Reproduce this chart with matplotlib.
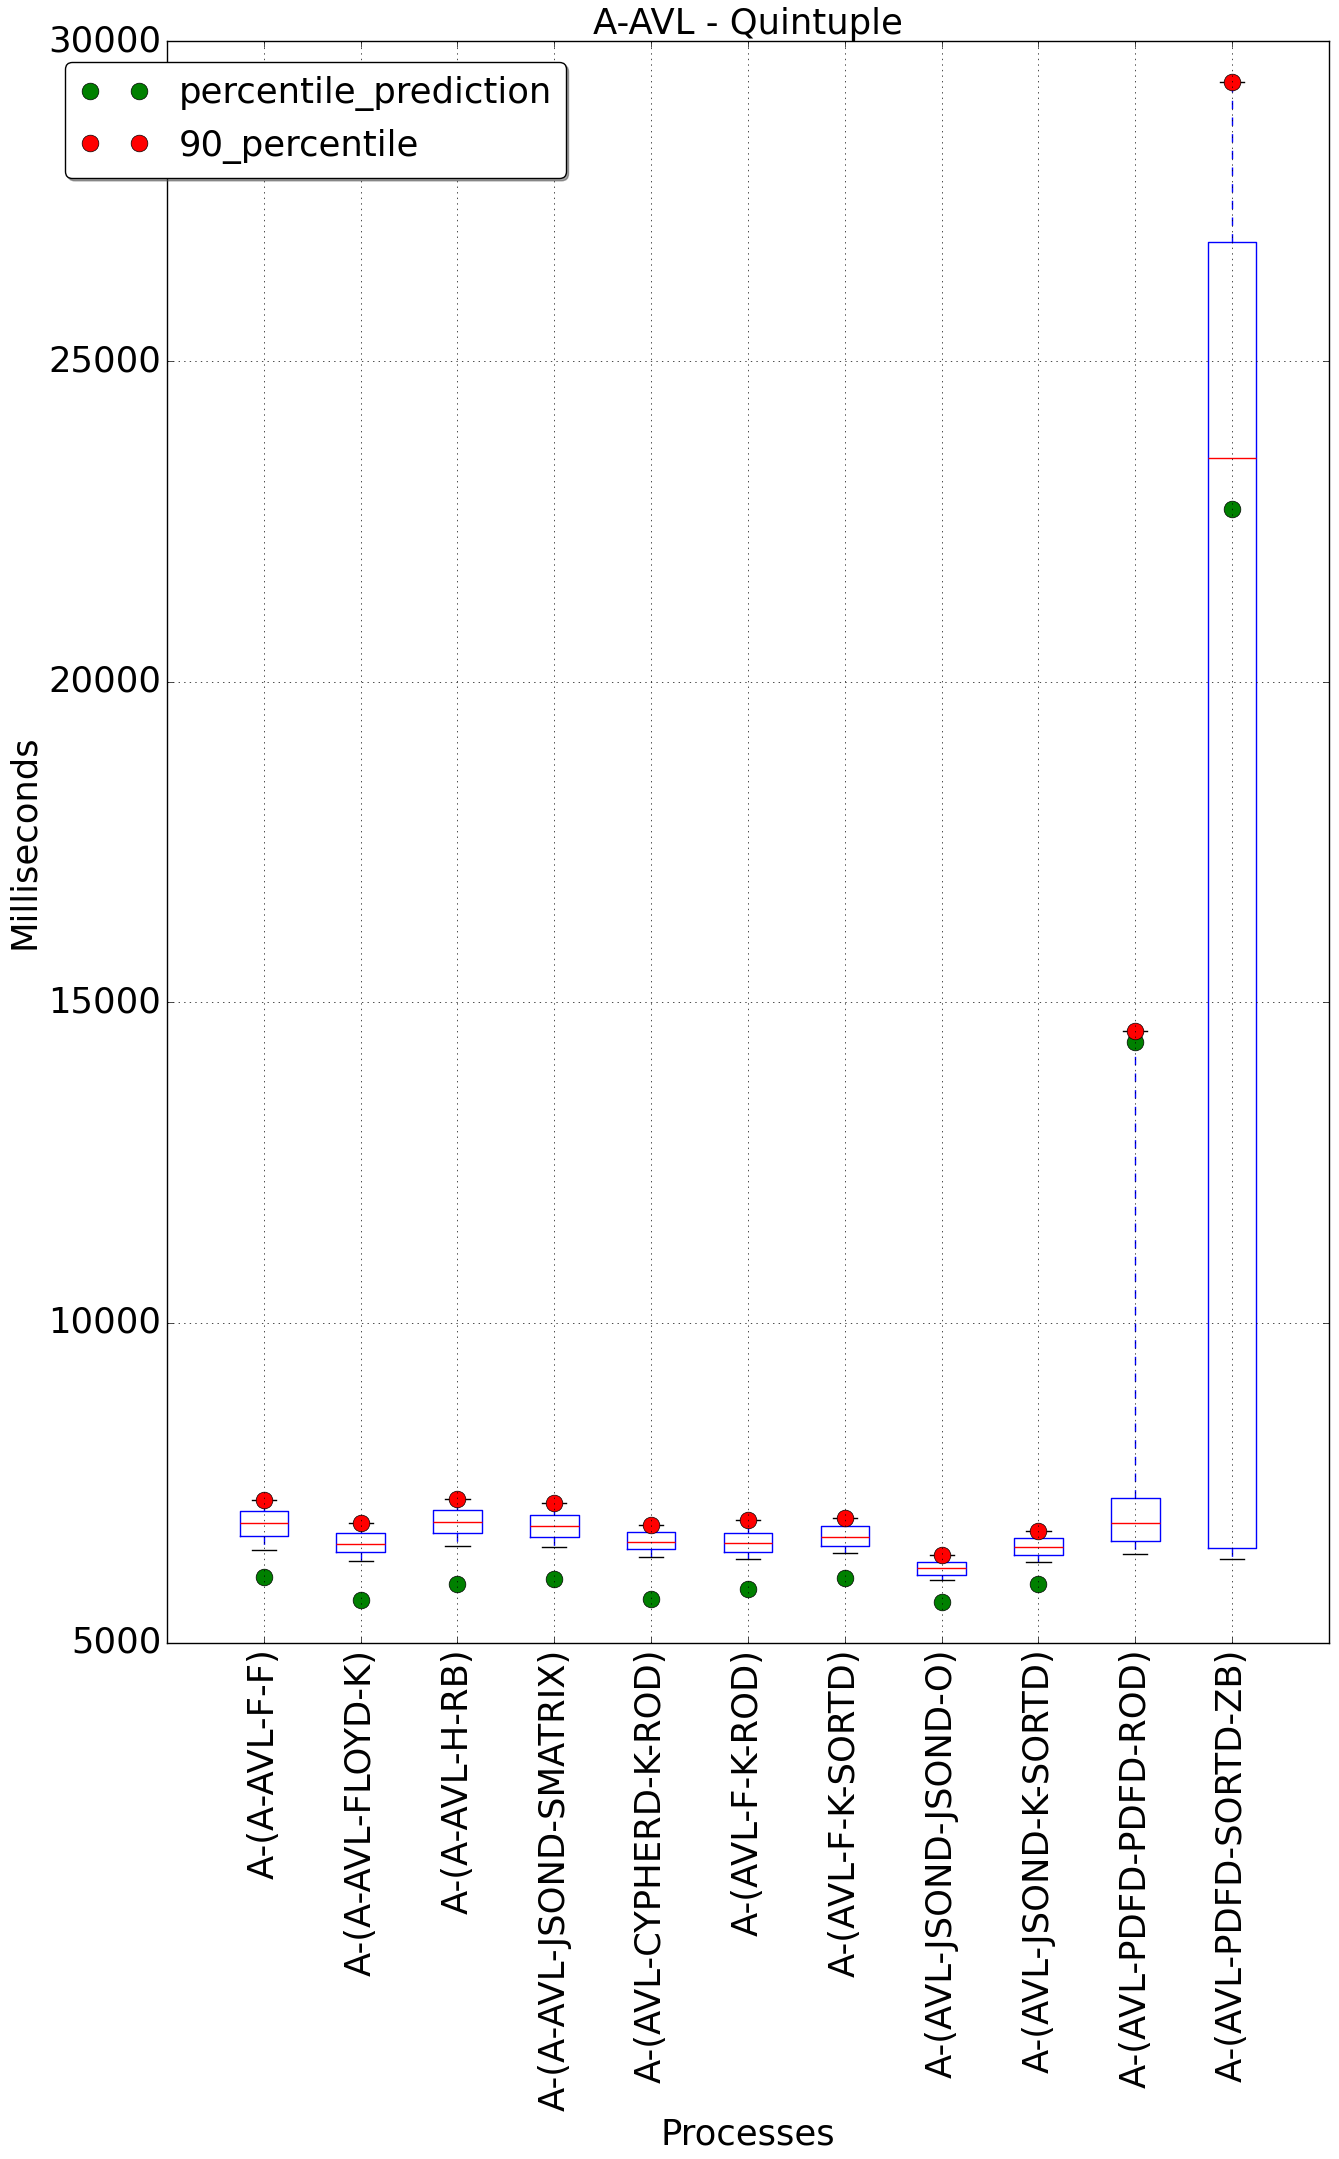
import matplotlib
matplotlib.use('Agg')
import matplotlib.pyplot as plt

plt.style.use('classic')

processes = ['A-(A-AVL-F-F)', 'A-(A-AVL-FLOYD-K)', 'A-(A-AVL-H-RB)',
             'A-(A-AVL-JSOND-SMATRIX)', 'A-(AVL-CYPHERD-K-ROD)', 'A-(AVL-F-K-ROD)',
             'A-(AVL-F-K-SORTD)', 'A-(AVL-JSOND-JSOND-O)', 'A-(AVL-JSOND-K-SORTD)',
             'A-(AVL-PDFD-PDFD-ROD)', 'A-(AVL-PDFD-SORTD-ZB)']

whislo = [6458, 6281, 6516, 6500, 6344, 6312, 6406, 5984, 6266, 6391, 6318]
q1 = [6672, 6422, 6719, 6656, 6469, 6422, 6510, 6063, 6375, 6599, 6484]
med = [6880, 6547, 6896, 6828, 6578, 6568, 6656, 6172, 6500, 6880, 23495]
q3 = [7063, 6719, 7078, 7000, 6734, 6724, 6828, 6266, 6641, 7266, 26871]
pct90 = [7224, 6865, 7250, 7177, 6844, 6922, 6953, 6375, 6755, 14548, 29366]
prediction = [6031, 5672, 5922, 6000, 5693, 5844, 6016, 5641, 5922, 14376, 22699]

fs = 25.5

fig = plt.figure(figsize=(13.39, 21.59), dpi=100)
fig.subplots_adjust(left=0.1247, right=0.9925, top=0.981, bottom=0.239)
ax = fig.add_subplot(111)

positions = list(range(1, len(processes) + 1))
stats = []
for i in range(len(processes)):
    stats.append({'med': med[i], 'q1': q1[i], 'q3': q3[i],
                  'whislo': whislo[i], 'whishi': pct90[i], 'fliers': []})
ax.bxp(stats, positions=positions, widths=0.5)

ax.plot(positions, prediction, 'o', color='green', markersize=12,
        label='percentile_prediction')
ax.plot(positions, pct90, 'o', color='red', markersize=12,
        label='90_percentile')

ax.set_xlim(0, 12)
ax.set_ylim(5000, 30000)
ax.set_xticks(positions)
ax.set_xticklabels(processes, rotation=90, fontsize=fs)
ax.set_yticks([5000, 10000, 15000, 20000, 25000, 30000])
ax.tick_params(axis='y', labelsize=fs)
ax.grid(True)

ax.set_title('A-AVL - Quintuple', fontsize=fs)
ax.set_xlabel('Processes', fontsize=fs)
ax.set_ylabel('Milliseconds', fontsize=fs)

ax.legend(loc='upper left', bbox_to_anchor=(65 / 1339, 1 - 62 / 2159),
          bbox_transform=fig.transFigure, borderaxespad=0,
          fancybox=True, shadow=True, fontsize=fs)

fig.savefig('out.png', dpi=100)
